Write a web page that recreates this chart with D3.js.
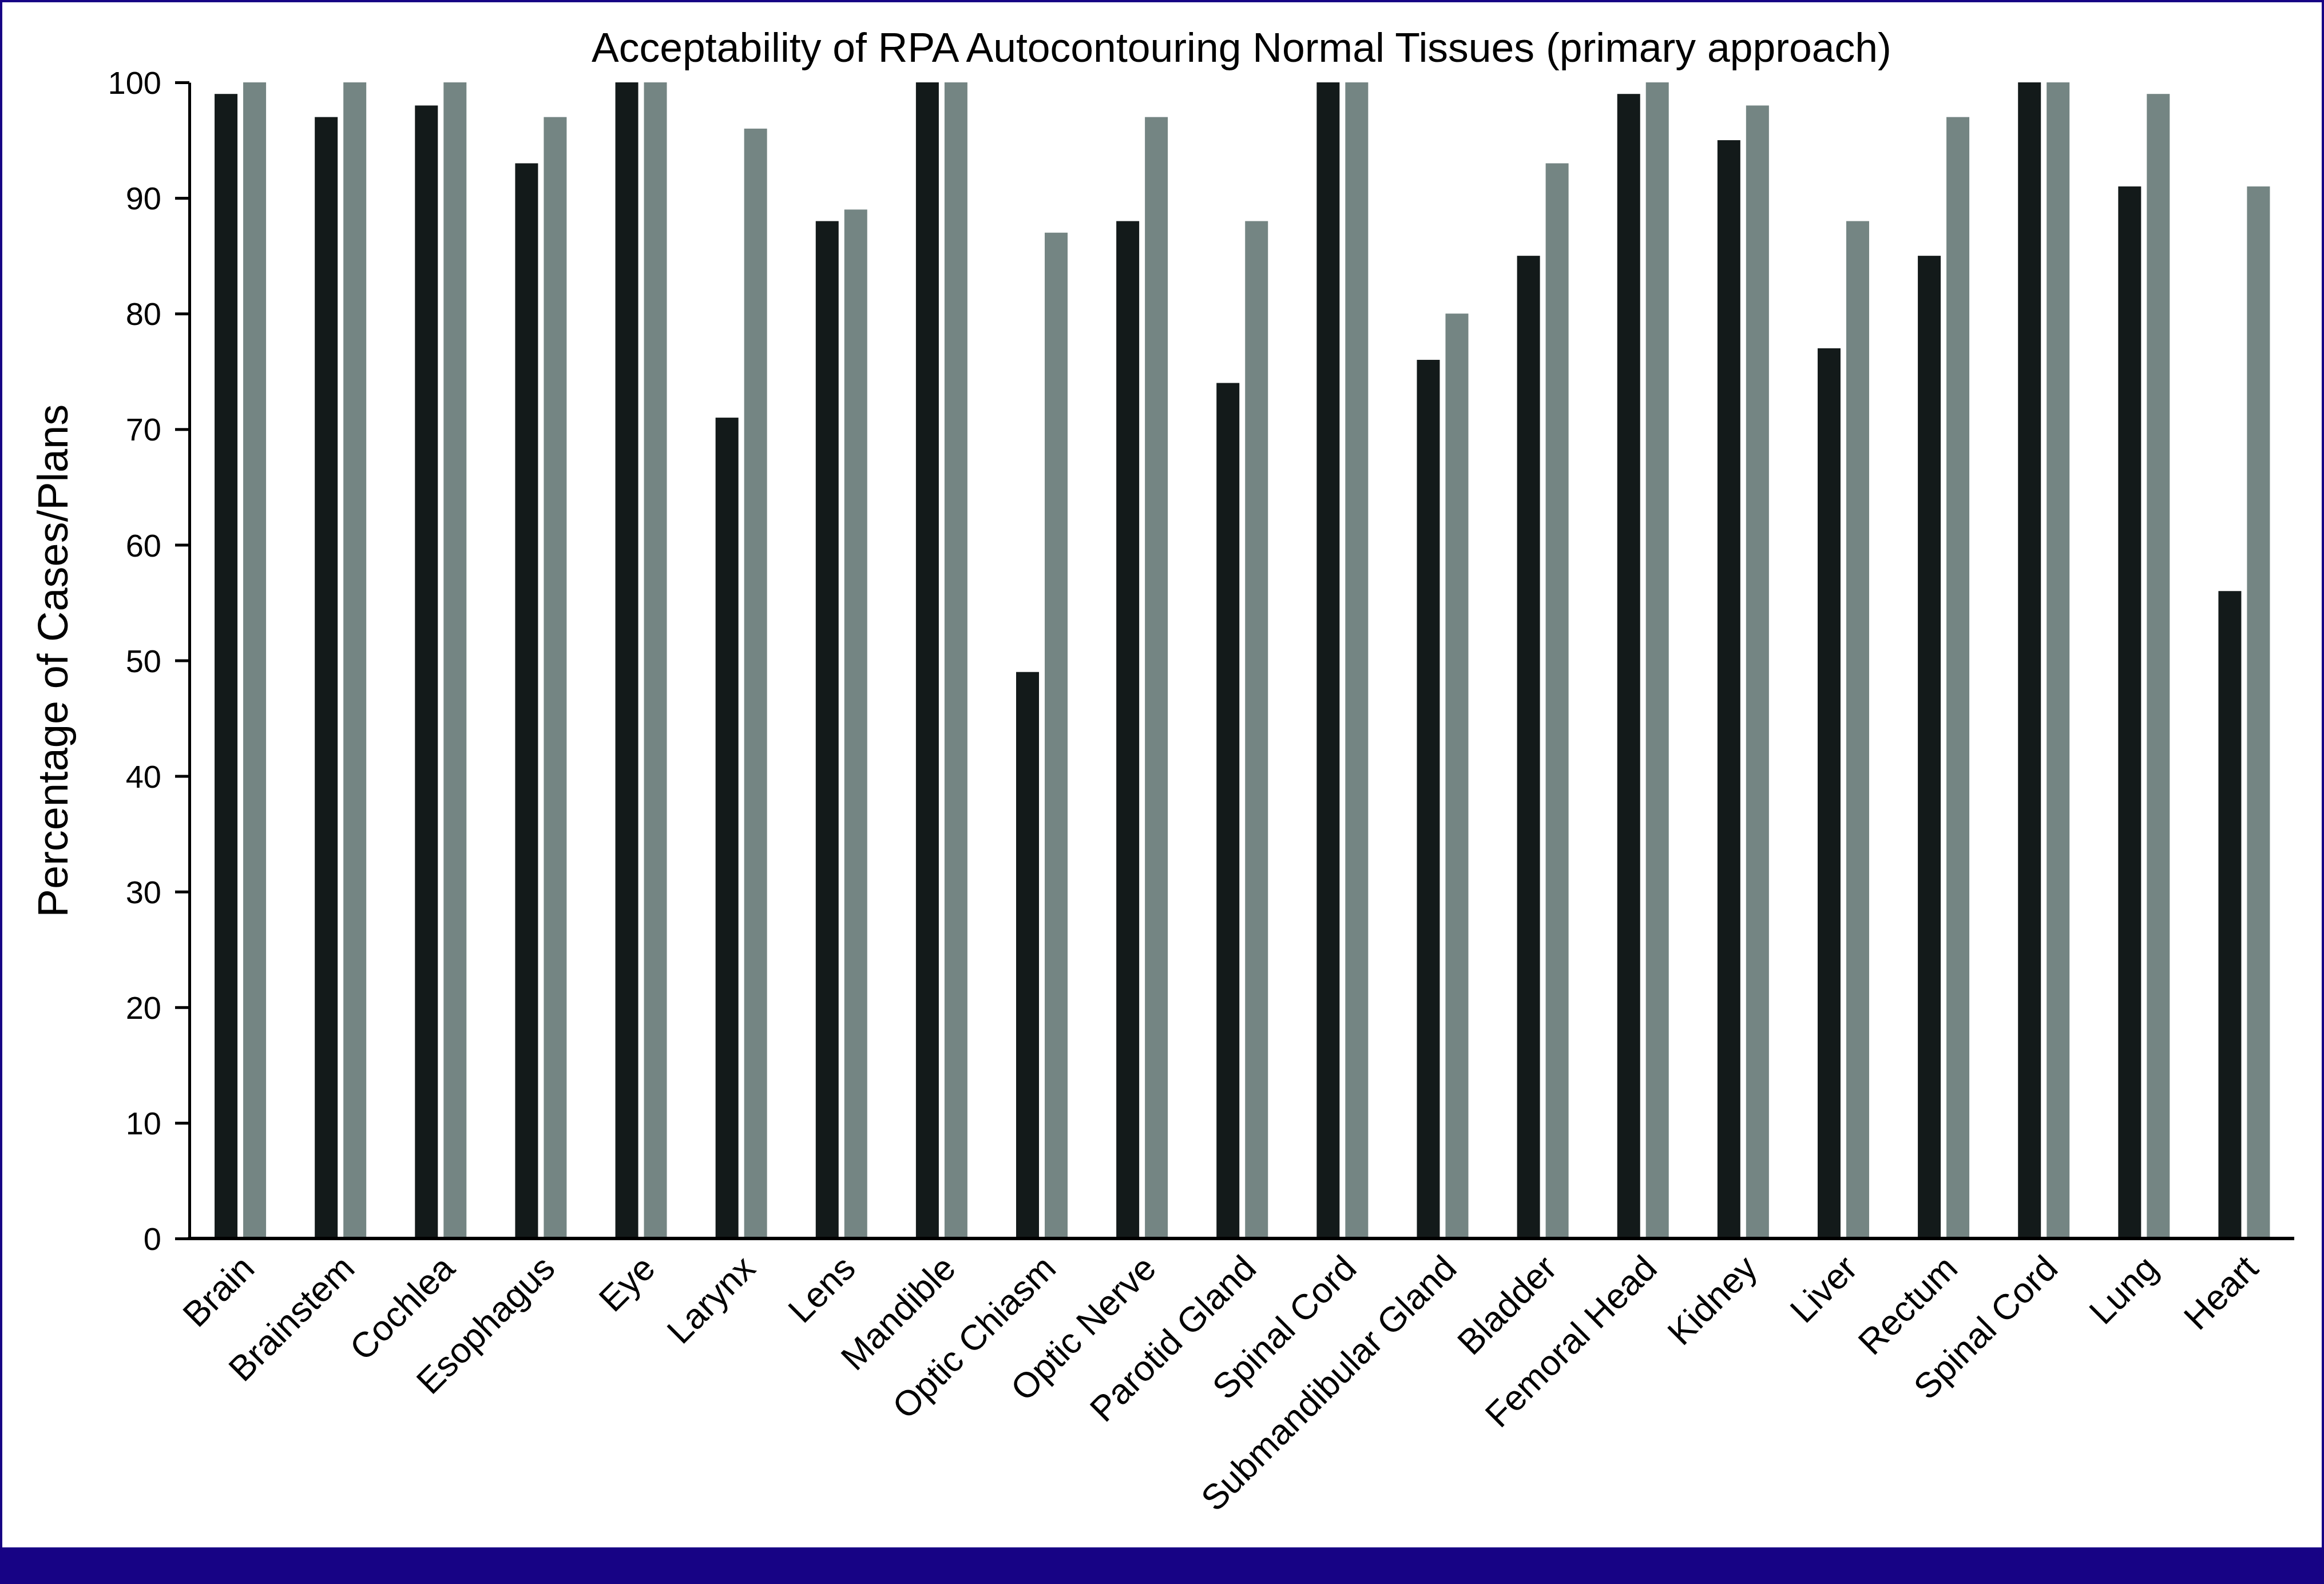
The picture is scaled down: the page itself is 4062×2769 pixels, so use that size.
<!DOCTYPE html>
<html>
<head>
<meta charset="utf-8">
<script src="https://cdn.jsdelivr.net/npm/d3@7"></script>
<style>
  html, body { margin: 0; padding: 0; background: #ffffff; }
  svg { display: block; }
</style>
</head>
<body>
<script>
const categories = ["Brain", "Brainstem", "Cochlea", "Esophagus", "Eye", "Larynx", "Lens", "Mandible",
  "Optic Chiasm", "Optic Nerve", "Parotid Gland", "Spinal Cord", "Submandibular Gland", "Bladder",
  "Femoral Head", "Kidney", "Liver", "Rectum", "Spinal Cord", "Lung", "Heart"];
const seriesDark = [99, 97, 98, 93, 100, 71, 88, 100, 49, 88, 74, 100, 76, 85, 99, 95, 77, 85, 100, 91, 56];
const seriesGray = [100, 100, 100, 97, 100, 96, 89, 100, 87, 97, 88, 100, 80, 93, 100, 98, 88, 97, 100, 99, 91];
const yTicks = [0, 10, 20, 30, 40, 50, 60, 70, 80, 90, 100];
const titleText = "Acceptability of RPA Autocontouring Normal Tissues (primary approach)";
const yLabelText = "Percentage of Cases/Plans";

const W = 4062, H = 2769;
const FONT = "'Liberation Sans', Arial, Helvetica, sans-serif";
const frameColor = "#170385";
const colDark = "#131a1a";
const colGray = "#748583";

const svg = d3.select("body").append("svg")
  .attr("width", W).attr("height", H)
  .attr("viewBox", `0 0 ${W} ${H}`);

svg.append("rect").attr("x", 0).attr("y", 0).attr("width", W).attr("height", H).attr("fill", "#ffffff");

// frame
svg.append("rect").attr("x", 0).attr("y", 0).attr("width", W).attr("height", 4).attr("fill", frameColor);
svg.append("rect").attr("x", 0).attr("y", 0).attr("width", 4).attr("height", H).attr("fill", frameColor);
svg.append("rect").attr("x", W - 4).attr("y", 0).attr("width", 4).attr("height", H).attr("fill", frameColor);
svg.append("rect").attr("x", 0).attr("y", 2705).attr("width", W).attr("height", H - 2705).attr("fill", frameColor);

const axisX0 = 331, axisX1 = 4010;
const y = d3.scaleLinear().domain([0, 100]).range([2165, 144]);
const x = d3.scaleBand().domain(d3.range(categories.length)).range([332.5, 4010]).paddingInner(0).paddingOuter(0);
const half = 45;
const x1 = d3.scaleBand().domain(["dark", "gray"]).range([x.bandwidth() / 2 - half, x.bandwidth() / 2 + half]).paddingInner(0.2).paddingOuter(0);

const data = categories.map((c, i) => ({ i, label: c, dark: seriesDark[i], gray: seriesGray[i] }));

const groups = svg.append("g").selectAll("g").data(data).join("g")
  .attr("transform", d => `translate(${x(d.i)},0)`);

groups.append("rect")
  .attr("x", x1("dark")).attr("width", x1.bandwidth())
  .attr("y", d => y(d.dark)).attr("height", d => y(0) - y(d.dark))
  .attr("fill", colDark);
groups.append("rect")
  .attr("x", x1("gray")).attr("width", x1.bandwidth())
  .attr("y", d => y(d.gray)).attr("height", d => y(0) - y(d.gray))
  .attr("fill", colGray);

// Y axis
const yAxis = d3.axisLeft(y).tickValues(yTicks).tickSize(25).tickPadding(24).tickSizeOuter(0);
const gy = svg.append("g").attr("transform", `translate(${axisX0},0)`).call(yAxis);
gy.select(".domain").attr("stroke", "#000").attr("stroke-width", 5);
gy.selectAll(".tick line").attr("stroke", "#000").attr("stroke-width", 5);
gy.selectAll(".tick text").attr("font-family", FONT).attr("font-size", 56).attr("fill", "#000").attr("dy", "0.35em");

// X axis line
svg.append("line")
  .attr("x1", axisX0 - 2.5).attr("x2", axisX1)
  .attr("y1", y(0)).attr("y2", y(0))
  .attr("stroke", "#000").attr("stroke-width", 6);

// X labels
svg.append("g").selectAll("text").data(data).join("text")
  .attr("transform", d => `translate(${x(d.i) + x.bandwidth() / 2 + 28},${y(0) + 56}) rotate(-45)`)
  .attr("text-anchor", "end")
  .attr("font-family", FONT).attr("font-size", 62).attr("fill", "#000")
  .text(d => d.label);

// Title
svg.append("text")
  .attr("x", 2170).attr("y", 108)
  .attr("text-anchor", "middle")
  .attr("font-family", FONT).attr("font-size", 71.5).attr("fill", "#000")
  .text(titleText);

// Y label
svg.append("text")
  .attr("transform", `translate(118,1155) rotate(-90)`)
  .attr("text-anchor", "middle")
  .attr("font-family", FONT).attr("font-size", 74).attr("fill", "#000")
  .text(yLabelText);
</script>
</body>
</html>
